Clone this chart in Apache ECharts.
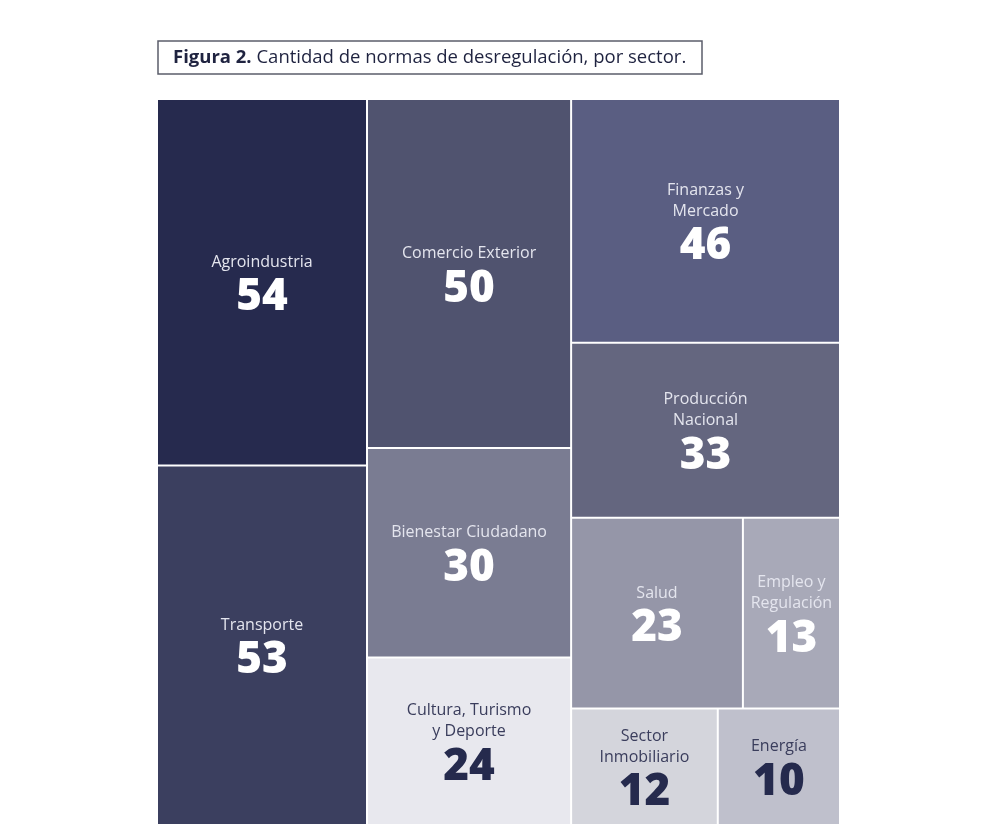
<!DOCTYPE html>
<html>
<head>
<meta charset="utf-8">
<title>Cantidad de normas de desregulación, por sector</title>
<script src="https://cdn.jsdelivr.net/npm/echarts@6/dist/echarts.min.js"></script>
<style>
  html, body { margin: 0; padding: 0; background: #fff; }
  #chart { width: 1000px; height: 839px; }
</style>
</head>
<body>
<div id="chart"></div>
<script>
// sectores y cantidad de normas
const sectors = ['Agroindustria', 'Transporte', 'Comercio Exterior', 'Bienestar Ciudadano',
  'Cultura, Turismo y Deporte', 'Finanzas y Mercado', 'Producción Nacional', 'Salud',
  'Empleo y Regulación', 'Sector Inmobiliario', 'Energía']
const normas = [54, 53, 50, 30, 24, 46, 33, 23, 13, 12, 10]
// cortes de línea como en la figura
const labelLines = [['Agroindustria'], ['Transporte'], ['Comercio Exterior'], ['Bienestar Ciudadano'],
  ['Cultura, Turismo', 'y Deporte'], ['Finanzas y', 'Mercado'], ['Producción', 'Nacional'], ['Salud'],
  ['Empleo y', 'Regulación'], ['Sector', 'Inmobiliario'], ['Energía']]
// agrupación por columnas (índices de sectors)
const columns = [[0, 1], [[2, 3, 4], [5, 6, [7, 8, 9, 10]]]]

const fills = ['#262a4e', '#3b3f5f', '#50536f', '#7a7c92', '#e8e8ee', '#5a5e82', '#64667f',
  '#9596a8', '#a8a9b8', '#d4d5dc', '#bfc0cc']
const darkText = [false, false, false, false, true, false, false, false, false, true, true]

const NAME_LH = 21
const VALUE_LH = 50

function leaf(i) {
  return { name: sectors[i], value: normas[i], idx: i, itemStyle: { color: fills[i] } }
}

function group(items) {
  return {
    name: '',
    children: items.map(it => Array.isArray(it) ? group(it) : leaf(it))
  }
}

const chart = echarts.init(document.getElementById('chart'))

chart.setOption({
  backgroundColor: '#fff',
  title: {
    text: '{b|Figura 2.} Cantidad de normas de desregulación, por sector.',
    left: 158,
    top: 41,
    padding: [7, 16, 7, 15],
    borderColor: '#5b5d6b',
    borderWidth: 1.5,
    textStyle: {
      fontFamily: 'Open Sans',
      fontSize: 18.5,
      fontWeight: 'normal',
      color: '#1f2340',
      rich: {
        b: { fontFamily: 'Open Sans', fontSize: 18.5, fontWeight: 'bold', color: '#1f2340' }
      }
    }
  },
  series: [{
    type: 'treemap',
    left: 158,
    top: 100,
    width: 681,
    height: 724,
    roam: false,
    nodeClick: false,
    sort: false,
    squareRatio: 1.65,
    breadcrumb: { show: false },
    itemStyle: { borderWidth: 0, gapWidth: 2, borderColor: '#fff' },
    label: {
      show: true,
      position: 'inside',
      align: 'center',
      verticalAlign: 'middle',
      formatter: p => {
        const i = p.data.idx
        const d = darkText[i] ? 'd' : ''
        return labelLines[i].map(l => '{n' + d + '|' + l + '}').join('\n') +
          '\n{v' + d + '|' + p.value + '}'
      },
      rich: {
        n: { fontFamily: 'Open Sans', fontSize: 16, lineHeight: NAME_LH, color: '#e4e5ee' },
        v: { fontFamily: 'Open Sans', fontSize: 44, fontWeight: 800, lineHeight: VALUE_LH, color: '#ffffff' },
        nd: { fontFamily: 'Open Sans', fontSize: 16, lineHeight: NAME_LH, color: '#3a3d5c' },
        vd: { fontFamily: 'Open Sans', fontSize: 44, fontWeight: 800, lineHeight: VALUE_LH, color: '#252a4d' }
      }
    },
    // centrar verticalmente el bloque de texto dentro de cada celda
    labelLayout: params => {
      const nLines = (params.text || '').split('\n').length - 1
      const contentH = nLines * NAME_LH + VALUE_LH
      return { dy: Math.max((params.rect.height - contentH) / 2, 0) }
    },
    emphasis: { disabled: true },
    data: group(columns).children
  }]
})
</script>
</body>
</html>
